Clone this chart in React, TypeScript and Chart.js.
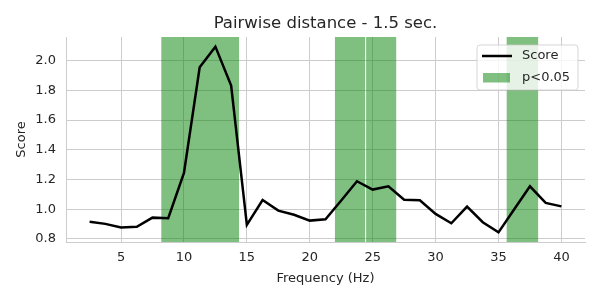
import React, { useEffect, useRef } from "react";
import { Chart, registerables } from "chart.js";

Chart.register(...registerables);

const FONT = "'DejaVu Sans', 'Liberation Sans', sans-serif";
const TEXT = "#262626";
const GRID = "#cccccc";

const chartTitle = "Pairwise distance - 1.5 sec.";
const xLabel = "Frequency (Hz)";
const yLabel = "Score";

const frequencies = [
  2.5, 3.75, 5, 6.25, 7.5, 8.75, 10, 11.25, 12.5, 13.75, 15, 16.25, 17.5, 18.75,
  20, 21.25, 22.5, 23.75, 25, 26.25, 27.5, 28.75, 30, 31.25, 32.5, 33.75, 35,
  36.25, 37.5, 38.75, 40,
];
const scores = [
  0.916, 0.901, 0.876, 0.881, 0.943, 0.939, 1.244, 1.955, 2.094, 1.832, 0.894,
  1.062, 0.99, 0.962, 0.923, 0.932, 1.058, 1.188, 1.132, 1.154, 1.064, 1.06,
  0.968, 0.905, 1.017, 0.912, 0.844, 0.999, 1.154, 1.042, 1.019,
];
const spanStarts = [8.2, 22.0, 24.48, 35.65];
const spanEnds = [14.38, 24.4, 26.87, 38.15];

const xTicks = [5, 10, 15, 20, 25, 30, 35, 40];
const yTicks = [0.8, 1.0, 1.2, 1.4, 1.6, 1.8, 2.0];

const seriesLabel = "Score";
const spanLabel = "p<0.05";
const SPAN_COLOR = "rgba(0,128,0,0.5)";

const spanPlugin = {
  id: "spans",
  beforeDatasetsDraw(chart: any) {
    const { ctx, chartArea, scales } = chart;
    ctx.save();
    ctx.fillStyle = SPAN_COLOR;
    for (let i = 0; i < spanStarts.length; i++) {
      const x0 = scales.x.getPixelForValue(spanStarts[i]);
      const x1 = scales.x.getPixelForValue(spanEnds[i]);
      ctx.fillRect(x0, chartArea.top, x1 - x0, chartArea.bottom - chartArea.top);
    }
    ctx.restore();
  },
};

const decorPlugin = {
  id: "decor",
  afterDraw(chart: any) {
    const { ctx, chartArea } = chart;
    ctx.save();
    // title
    ctx.font = `16.5px ${FONT}`;
    ctx.fillStyle = TEXT;
    ctx.textAlign = "center";
    ctx.textBaseline = "alphabetic";
    ctx.fillText(chartTitle, (chartArea.left + chartArea.right) / 2, 28);

    // legend
    const bx = 477, by = 45, bw = 101, bh = 45, r = 3;
    ctx.beginPath();
    ctx.moveTo(bx + r, by);
    ctx.lineTo(bx + bw - r, by);
    ctx.arcTo(bx + bw, by, bx + bw, by + r, r);
    ctx.lineTo(bx + bw, by + bh - r);
    ctx.arcTo(bx + bw, by + bh, bx + bw - r, by + bh, r);
    ctx.lineTo(bx + r, by + bh);
    ctx.arcTo(bx, by + bh, bx, by + bh - r, r);
    ctx.lineTo(bx, by + r);
    ctx.arcTo(bx, by, bx + r, by, r);
    ctx.closePath();
    ctx.fillStyle = "rgba(255,255,255,0.8)";
    ctx.fill();
    ctx.strokeStyle = "rgba(204,204,204,0.8)";
    ctx.lineWidth = 1;
    ctx.stroke();

    ctx.strokeStyle = "#000";
    ctx.lineWidth = 2.5;
    ctx.beginPath();
    ctx.moveTo(482, 56);
    ctx.lineTo(512, 56);
    ctx.stroke();

    ctx.fillStyle = SPAN_COLOR;
    ctx.fillRect(483, 73, 27, 9.5);

    ctx.font = `13px ${FONT}`;
    ctx.fillStyle = TEXT;
    ctx.textAlign = "left";
    ctx.textBaseline = "middle";
    ctx.fillText(seriesLabel, 522, 56);
    ctx.fillText(spanLabel, 522, 78);
    ctx.restore();
  },
};

export default function App() {
  const ref = useRef<HTMLCanvasElement | null>(null);

  useEffect(() => {
    if (!ref.current) return;
    const chart = new Chart(ref.current, {
      type: "line",
      data: {
        datasets: [
          {
            label: seriesLabel,
            data: frequencies.map((f, i) => ({ x: f, y: scores[i] })),
            borderColor: "#000000",
            backgroundColor: "#000000",
            borderWidth: 2.5,
            pointRadius: 0,
            tension: 0,
            fill: false,
          },
        ],
      },
      options: {
        responsive: false,
        animation: false,
        layout: { padding: { top: 37, right: 15, left: 0, bottom: 0 } },
        plugins: {
          legend: { display: false },
          title: { display: false },
          tooltip: { enabled: false },
        },
        scales: {
          x: {
            type: "linear",
            min: 0.625,
            max: 41.875,
            afterBuildTicks: (axis: any) => {
              axis.ticks = xTicks.map((v) => ({ value: v }));
            },
            afterFit: (axis: any) => {
              axis.height = 58;
            },
            ticks: {
              font: { family: FONT, size: 13 },
              color: TEXT,
              padding: 8,
              maxRotation: 0,
              callback: (v: any) => String(v),
            },
            grid: { color: GRID, lineWidth: 1, drawTicks: false },
            border: { display: true, color: GRID, width: 1 },
            title: {
              display: true,
              text: xLabel,
              font: { family: FONT, size: 13 },
              color: TEXT,
              padding: { top: 0, bottom: 13.5 },
            },
          },
          y: {
            type: "linear",
            min: 0.779,
            max: 2.159,
            afterBuildTicks: (axis: any) => {
              axis.ticks = yTicks.map((v) => ({ value: v }));
            },
            afterFit: (axis: any) => {
              axis.width = 66;
            },
            ticks: {
              font: { family: FONT, size: 13 },
              color: TEXT,
              padding: 10,
              callback: (v: any) => Number(v).toFixed(1),
            },
            grid: { color: GRID, lineWidth: 1, drawTicks: false },
            border: { display: true, color: GRID, width: 1 },
            title: {
              display: true,
              text: yLabel,
              font: { family: FONT, size: 13 },
              color: TEXT,
              padding: { top: 14, bottom: 0 },
            },
          },
        },
      },
      plugins: [spanPlugin, decorPlugin],
    } as any);
    return () => chart.destroy();
  }, []);

  return (
    <div style={{ position: "fixed", left: 0, top: 0, width: 600, height: 300, background: "#fff" }}>
      <canvas ref={ref} width={600} height={300} style={{ display: "block" }} />
    </div>
  );
}
